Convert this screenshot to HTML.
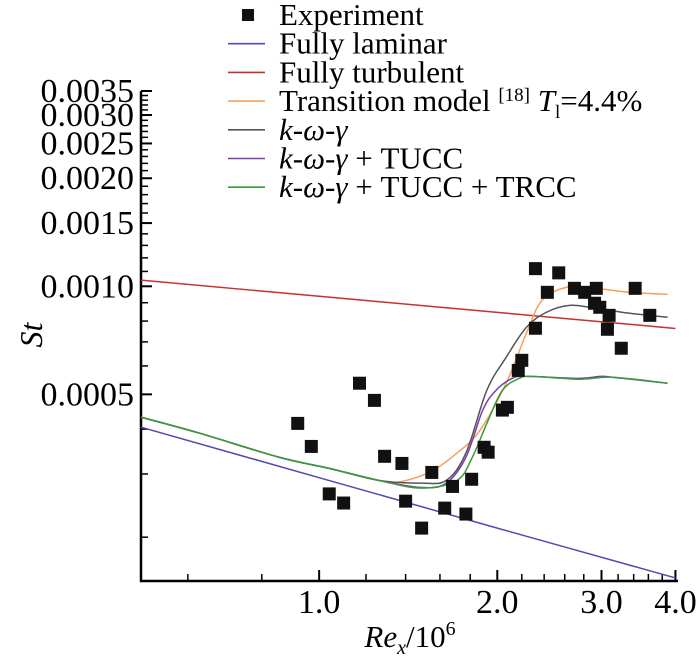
<!DOCTYPE html>
<html><head><meta charset="utf-8"><style>
html,body{margin:0;padding:0;background:#fff;}
svg{display:block;font-family:"Liberation Serif","DejaVu Serif",serif;}
</style></head><body>
<svg id="chart" width="700" height="661" viewBox="0 0 700 661" xmlns="http://www.w3.org/2000/svg">
<g id="axes"></g>
<g id="series"></g>
<g id="legend"></g>
<text x="0" y="0" transform="translate(42,335) rotate(-90)" font-size="32" font-style="italic" text-anchor="middle">St</text>
<text x="410" y="647" font-size="31" text-anchor="middle"><tspan font-style="italic">Re</tspan><tspan font-style="italic" font-size="20" dy="7">x</tspan><tspan dy="-7">/10</tspan><tspan font-size="20" dy="-12">6</tspan></text>
</svg>
<script>
const xTickVals=[1,2,3,4];
const xTickLabels=["1.0","2.0","3.0","4.0"];
const xMinorVals=[0.6,0.8,1.2,1.4,1.6,1.8,2.2,2.4,2.6,2.8,3.2,3.4,3.6,3.8];
const yTickVals=[0.0005,0.0010,0.0015,0.0020,0.0025,0.0030,0.0035];
const yTickLabels=["0.0005","0.0010","0.0015","0.0020","0.0025","0.0030","0.0035"];
const yMinorVals=[0.0002,0.0003,0.0004,0.0006,0.0007,0.0008,0.0009,0.0011,0.0012,0.0013,0.0014,0.0016,0.0017,0.0018,0.0019,0.0021,0.0022,0.0023,0.0024,0.0026,0.0027,0.0028,0.0029,0.0031,0.0032,0.0033,0.0034];

const expX=[0.92,0.97,1.04,1.10,1.17,1.24,1.29,1.38,1.40,1.49,1.55,1.63,1.68,1.77,1.81,1.90,1.93,2.04,2.08,2.17,2.20,2.32,2.32,2.43,2.54,2.70,2.81,2.94,2.92,2.98,3.09,3.07,3.24,3.42,3.62];
const expY=[0.000415,0.000358,0.000264,0.000249,0.000537,0.000481,0.000336,0.000321,0.000252,0.000212,0.000303,0.000241,0.000277,0.000232,0.000290,0.000356,0.000345,0.000452,0.000460,0.000583,0.000622,0.00112,0.000764,0.000962,0.00109,0.000987,0.000962,0.000987,0.000897,0.000874,0.000830,0.000759,0.000672,0.000987,0.000830];

const lamX=[0.5,1,2,4.0];
const lamY=[0.000405,0.000293,0.000212,0.000154];
const turbX=[0.5,1,2,4.0];
const turbY=[0.00104,0.000938,0.000846,0.000763];
const orangeX=[0.5,0.627,0.856,1.04,1.26,1.35,1.535,1.71,1.87,2.07,2.24,2.38,2.62,2.94,3.35,3.88];
const orangeY=[0.000432,0.000390,0.000334,0.000311,0.000288,0.000284,0.000303,0.000343,0.000397,0.000537,0.000740,0.000914,0.000994,0.000987,0.000962,0.000950];
const grayX=[0.5,0.627,0.856,1.04,1.26,1.49,1.64,1.77,1.92,2.07,2.24,2.42,2.65,2.94,3.35,3.88];
const grayY=[0.000432,0.000390,0.000334,0.000311,0.000288,0.000283,0.000288,0.000343,0.000513,0.000634,0.000769,0.000846,0.000885,0.000868,0.000841,0.000820];
const purpleX=[0.5,0.627,0.856,1.04,1.26,1.49,1.64,1.77,1.89,1.99,2.12,2.24,2.75,2.98,3.13,3.88];
const purpleY=[0.000432,0.000390,0.000334,0.000311,0.000288,0.000275,0.000283,0.000334,0.000452,0.000513,0.000554,0.000561,0.000554,0.000561,0.000558,0.000537];
const greenX=[0.5,0.627,0.856,1.04,1.26,1.49,1.71,1.815,1.92,2.04,2.18,2.29,2.75,3.13,3.88];
const greenY=[0.000432,0.000390,0.000334,0.000311,0.000288,0.000274,0.000288,0.000334,0.000415,0.000513,0.000554,0.000561,0.000551,0.000558,0.000537];

const NS="http://www.w3.org/2000/svg";
const X0=141,X1=678,Y0=581,Y1=91;
const xmin=0.5,xmax=4.04,ymin=0.000151,ymax=0.0035;
function sx(v){return X0+(Math.log10(v)-Math.log10(xmin))/(Math.log10(xmax)-Math.log10(xmin))*(X1-X0);}
function sy(v){return Y0-(Math.log10(v)-Math.log10(ymin))/(Math.log10(ymax)-Math.log10(ymin))*(Y0-Y1);}
function mk(tag,attrs,parent){const e=document.createElementNS(NS,tag);for(const k in attrs)e.setAttribute(k,attrs[k]);parent.appendChild(e);return e;}
const axes=document.getElementById('axes');
let ax=mk('path',{d:`M${X0},${Y1} L${X0},${Y0} L${X1},${Y0}`,fill:'none',stroke:'#000','stroke-width':2.5},axes);


xTickVals.forEach((v,i)=>{const x=sx(v);
 const t=mk('line',{x1:x,x2:x,y1:Y0,y2:Y0-11,stroke:'#000','stroke-width':2},axes);
 
 
 const l=mk('text',{x:x,y:Y0+32,'font-size':34,'text-anchor':'middle'},axes);l.textContent=xTickLabels[i];
 
 });
xMinorVals.forEach(v=>{const x=sx(v);
 const t=mk('line',{x1:x,x2:x,y1:Y0,y2:Y0-7,stroke:'#000','stroke-width':1.5},axes);
 
 });
yTickVals.forEach((v,i)=>{const y=sy(v);
 const t=mk('line',{x1:X0,x2:X0+11,y1:y,y2:y,stroke:'#000','stroke-width':2},axes);
 
 
 const l=mk('text',{x:134,y:y+11,'font-size':34,'text-anchor':'end'},axes);l.textContent=yTickLabels[i];
 
 });
yMinorVals.forEach(v=>{const y=sy(v);
 const t=mk('line',{x1:X0,x2:X0+7,y1:y,y2:y,stroke:'#000','stroke-width':1.5},axes);
 
 });

const ser=document.getElementById('series');
function smooth(xs,ys){const p=xs.map((x,i)=>[sx(x),sy(ys[i])]);let d=`M${p[0][0]},${p[0][1]}`;
 for(let i=0;i<p.length-1;i++){const a=p[Math.max(i-1,0)],b=p[i],c=p[i+1],e=p[Math.min(i+2,p.length-1)];
 d+=` C${b[0]+(c[0]-a[0])/6},${b[1]+(c[1]-a[1])/6} ${c[0]-(e[0]-b[0])/6},${c[1]-(e[1]-b[1])/6} ${c[0]},${c[1]}`;}return d;}
function line(xs,ys,color,name){const e=mk('path',{d:smooth(xs,ys),fill:'none',stroke:color,'stroke-width':1.5},ser);
 
 }
line(lamX,lamY,'#5448b0','fully-laminar-line');
line(turbX,turbY,'#c8302a','fully-turbulent-line');
line(orangeX,orangeY,'#f5a05a','transition-model-line');
line(grayX,grayY,'#555555','k-omega-gamma-line');
line(purpleX,purpleY,'#7a3fa8','tucc-line');
line(greenX,greenY,'#3a9a3a','tucc-trcc-line');
expX.forEach((x,i)=>{const r=mk('rect',{x:sx(x)-6.5,y:sy(expY[i])-6.5,width:13,height:13,fill:'#111'},ser);
 
 });

const leg=document.getElementById('legend');
const legNames=['Experiment','Fully laminar','Fully turbulent','Transition model','k-ω-γ','k-ω-γ + TUCC','k-ω-γ + TUCC + TRCC'];
const legColors=['#111','#5448b0','#c8302a','#f5a05a','#555555','#7a3fa8','#3a9a3a'];
const legHtml=['Experiment','Fully laminar','Fully turbulent',
 'Transition model <tspan font-size="19" dy="-10">[18]</tspan><tspan dy="10"> </tspan><tspan font-style="italic">T</tspan><tspan font-size="19" dy="7">l</tspan><tspan dy="-7">=4.4%</tspan>',
 '<tspan font-style="italic">k-ω-γ</tspan>','<tspan font-style="italic">k-ω-γ</tspan> + TUCC','<tspan font-style="italic">k-ω-γ</tspan> + TUCC + TRCC'];
legNames.forEach((n,i)=>{const y=15+i*28.7;
 if(i===0){const r=mk('rect',{x:242,y:y-6,width:12,height:12,fill:'#111'},leg);
  
  }
 else{const l=mk('line',{x1:228,x2:265,y1:y,y2:y,stroke:legColors[i],'stroke-width':1.6},leg);
  
  }
 const t=mk('text',{x:279,y:y+10,'font-size':31},leg);t.innerHTML=legHtml[i];
 
 });
</script>
</body></html>
